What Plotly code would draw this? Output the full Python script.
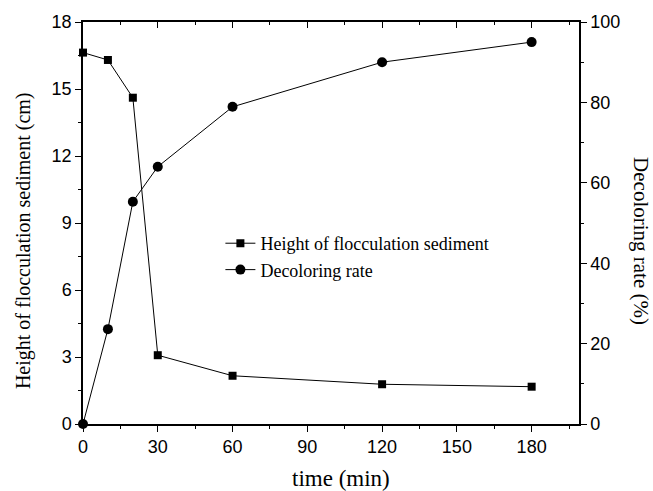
import plotly.graph_objects as go

time_min = [0, 10, 20, 30, 60, 120, 180]
height_cm = [16.63, 16.30, 14.61, 3.08, 2.16, 1.78, 1.67]
decolor_pct = [0, 23.6, 55.3, 64.0, 78.9, 90.0, 95.0]

serif = "Liberation Serif"
sans = "Liberation Sans"

fig = go.Figure()
fig.add_trace(go.Scatter(
    x=time_min, y=height_cm, name="Height of flocculation sediment",
    mode="lines+markers", line=dict(color="black", width=1),
    marker=dict(symbol="square", size=8, color="black"),
    cliponaxis=False, xaxis="x", yaxis="y"))
fig.add_trace(go.Scatter(
    x=time_min, y=decolor_pct, name="Decoloring rate",
    mode="lines+markers", line=dict(color="black", width=1),
    marker=dict(symbol="circle", size=10, color="black"),
    cliponaxis=False, xaxis="x", yaxis="y2"))
# invisible trace to anchor top axis
fig.add_trace(go.Scatter(x=[0], y=[0], mode="markers", marker=dict(opacity=0),
                         showlegend=False, hoverinfo="skip", xaxis="x2", yaxis="y"))

tickfont = dict(family=sans, size=18, color="black")

fig.update_layout(
    width=653, height=491,
    margin=dict(l=83, r=74, t=22, b=67),
    paper_bgcolor="white", plot_bgcolor="white",
    showlegend=True,
    legend=dict(x=0.277, y=0.495, xanchor="left", yanchor="top",
                font=dict(family=serif, size=18, color="black"),
                bgcolor="rgba(0,0,0,0)", itemwidth=30, tracegroupgap=0),
    xaxis=dict(range=[0, 199], dtick=30, tick0=0, showgrid=False, zeroline=False,
               showline=True, linecolor="black", linewidth=1.5,
               ticks="outside", ticklen=6, tickwidth=1.2, tickcolor="black",
               minor=dict(dtick=15, tick0=0, ticks="outside", ticklen=3, tickwidth=1.2, tickcolor="black"),
               tickfont=tickfont),
    xaxis2=dict(range=[0, 199], matches="x", overlaying="x", side="top", dtick=30, tick0=0,
                showgrid=False, zeroline=False, showline=True, linecolor="black", linewidth=1.5,
                ticks="inside", ticklen=6, tickwidth=1.2, tickcolor="black",
                minor=dict(dtick=15, tick0=0, ticks="inside", ticklen=3, tickwidth=1.2, tickcolor="black"),
                showticklabels=False),
    yaxis=dict(range=[0, 18], dtick=3, tick0=0, showgrid=False, zeroline=False,
               showline=True, linecolor="black", linewidth=1.5,
               ticks="outside", ticklen=6, tickwidth=1.2, tickcolor="black",
               minor=dict(dtick=1.5, tick0=0, ticks="outside", ticklen=3, tickwidth=1.2, tickcolor="black"),
               tickfont=tickfont),
    yaxis2=dict(range=[0, 100], dtick=20, tick0=0, overlaying="y", side="right",
                showgrid=False, zeroline=False, showline=True, linecolor="black", linewidth=1.5,
                ticks="outside", ticklen=6, tickwidth=1.2, tickcolor="black",
                minor=dict(dtick=10, tick0=0, ticks="outside", ticklen=3, tickwidth=1.2, tickcolor="black"),
                tickfont=tickfont),
    annotations=[
        dict(text="Height of flocculation sediment (cm)", textangle=-90, xref="paper", yref="paper",
             x=0, y=0.455, xanchor="center", yanchor="middle", xshift=-60, showarrow=False,
             font=dict(family=serif, size=20, color="black")),
        dict(text="Decoloring rate (%)", textangle=90, xref="paper", yref="paper",
             x=1.0, y=0.455, xanchor="center", yanchor="middle", xshift=62, showarrow=False,
             font=dict(family=serif, size=21, color="black")),
        dict(text="time (min)", xref="paper", yref="paper",
             x=0.52, y=0, xanchor="center", yanchor="middle", yshift=-54, showarrow=False,
             font=dict(family=serif, size=23, color="black")),
    ],
)

fig.write_html("out.html")
